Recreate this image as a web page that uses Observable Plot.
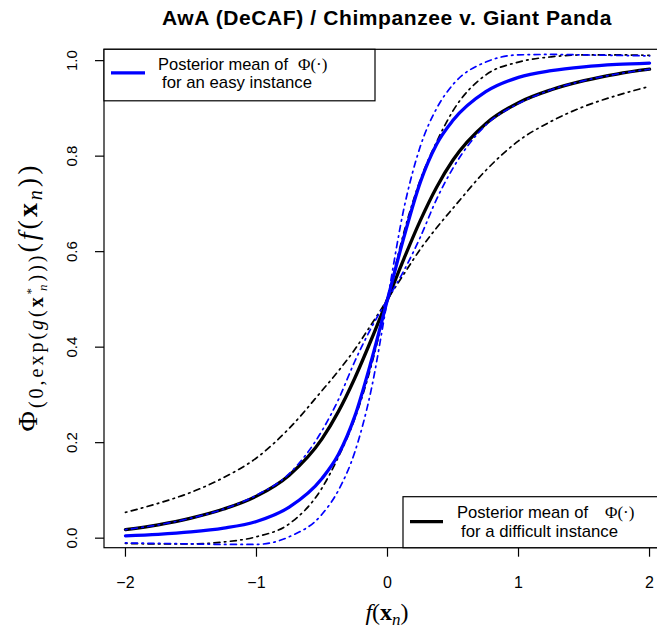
<!DOCTYPE html>
<html><head><meta charset="utf-8">
<script src="https://cdn.jsdelivr.net/npm/d3@7"></script>
<script src="https://cdn.jsdelivr.net/npm/@observablehq/plot@0.6"></script>
<style>
html,body{margin:0;padding:0;background:#fff;overflow:hidden;}
#title{position:relative;width:657px;height:36px;font-family:"Liberation Sans",Arial,sans-serif;}
#title span{position:absolute;left:387px;top:7px;transform:translateX(-50%);white-space:nowrap;font-weight:bold;font-size:21px;line-height:1;letter-spacing:0.6px;color:#000;}
</style></head><body>
<div id="title"><span>AwA (DeCAF) / Chimpanzee v. Giant Panda</span></div>
<div id="chart"></div>
<script>
// f(x_n) grid
const fx = [-2, -1.75, -1.5, -1.25, -1, -0.75, -0.5, -0.375, -0.25, -0.125, 0, 0.125, 0.25, 0.375, 0.5, 0.75, 1, 1.25, 1.5, 1.75, 2];
// difficult instance (black)
const blackMean   = [0.018, 0.028, 0.042, 0.061, 0.088, 0.132, 0.208, 0.265, 0.335, 0.415, 0.500, 0.585, 0.665, 0.735, 0.792, 0.868, 0.912, 0.939, 0.958, 0.972, 0.982];
const blackBandA  = [0.054, 0.073, 0.096, 0.127, 0.168, 0.230, 0.309, 0.350, 0.395, 0.447, 0.500, 0.553, 0.605, 0.650, 0.691, 0.770, 0.832, 0.873, 0.904, 0.927, 0.946];
const blackBandB  = [-0.011, -0.012, -0.012, -0.008, 0.003, 0.030, 0.105, 0.170, 0.250, 0.360, 0.500, 0.640, 0.750, 0.830, 0.895, 0.970, 0.997, 1.008, 1.012, 1.012, 1.011];
// easy instance (blue)
const blueMean    = [0.005, 0.008, 0.013, 0.021, 0.035, 0.065, 0.125, 0.175, 0.255, 0.370, 0.500, 0.630, 0.745, 0.825, 0.875, 0.935, 0.965, 0.979, 0.987, 0.992, 0.995];
const blueBandA   = [0.018, 0.028, 0.042, 0.061, 0.090, 0.135, 0.225, 0.290, 0.370, 0.440, 0.500, 0.560, 0.630, 0.710, 0.775, 0.865, 0.910, 0.939, 0.958, 0.972, 0.982];
const blueBandB   = [-0.010, -0.011, -0.012, -0.013, -0.013, 0.003, 0.050, 0.100, 0.180, 0.310, 0.500, 0.690, 0.820, 0.900, 0.950, 0.997, 1.012, 1.013, 1.012, 1.011, 1.010];
// ticks
const xTicks = [-2, -1, 0, 1, 2];
const xTickLabels = ["\u22122", "\u22121", "0", "1", "2"];
const yTicks = [0, 0.2, 0.4, 0.6, 0.8, 1.0];
const yTickLabels = ["0.0", "0.2", "0.4", "0.6", "0.8", "1.0"];
const legendEasy = ["Posterior mean of", "for an easy instance"];
const legendHard = ["Posterior mean of", "for a difficult instance"];

(function () {
const xDomain = [-2.16, 2.16];
const yDomain = [-0.021, 1.0227];
const rows = s => fx.map((x, i) => ({x, y: s[i]}));
const dash = "1.5,4.5,6,4.5";
const sans = "Liberation Sans, Arial, sans-serif";
const serif = "Liberation Serif, DejaVu Serif, serif";

const solid = (s, c) => Plot.line(rows(s), {x: "x", y: "y", stroke: c, strokeWidth: 3.3, curve: "monotone-x"});
const dd = (s, c) => Plot.line(rows(s), {x: "x", y: "y", stroke: c, strokeWidth: 1.7, strokeDasharray: dash, curve: "monotone-x"});

const plot = Plot.plot({
  width: 657, height: 594,
  marginTop: 13.3, marginBottom: 82.3, marginLeft: 104, marginRight: 0,
  x: {domain: xDomain, range: [104, 670]},
  y: {domain: yDomain},
  style: {background: "white", fontFamily: sans, overflow: "hidden"},
  marks: [
    solid(blackMean, "black"),
    dd(blackBandA, "black"),
    dd(blackBandB, "black"),
    solid(blueMean, "#0000ff"),
    dd(blueBandA, "#0000ff"),
    dd(blueBandB, "#0000ff"),
    Plot.rect([0], {x1: xDomain[0], x2: xDomain[1], y1: yDomain[0], y2: yDomain[1], stroke: "black", fill: "none", strokeWidth: 1.2}),
    Plot.axisX(xTicks, {tickSize: 9, fill: "none", label: null, strokeWidth: 1.2}),
    Plot.axisY(yTicks, {tickSize: 9, fill: "none", label: null, strokeWidth: 1.2}),
    Plot.text(xTicks, {x: d => d, y: yDomain[0], text: (d, i) => xTickLabels[i], dy: 40, lineAnchor: "bottom", fontSize: 16, fill: "black"}),
    Plot.text(yTicks, {x: xDomain[0], y: d => d, text: (d, i) => yTickLabels[i], dx: -32, rotate: -90, lineAnchor: "middle", fontSize: 15, fill: "black"})
  ]
});
document.getElementById("chart").appendChild(plot);

const svg = d3.select(plot);
const sx = plot.scale("x"), sy = plot.scale("y");
const pLeft = sx.apply(xDomain[0]), pTop = sy.apply(yDomain[1]), pBottom = sy.apply(yDomain[0]);

const txt = (g, x, y, s, fam, size, len) => {
  const t = g.append("text").attr("x", x).attr("y", y).attr("text-anchor", "start")
    .attr("font-family", fam).attr("font-size", size).attr("fill", "black").text(s);
  if (len) t.attr("textLength", len).attr("lengthAdjust", "spacingAndGlyphs");
  return t;
};

// Legend (easy), top-left
const g1 = svg.append("g");
g1.append("rect").attr("x", pLeft).attr("y", pTop).attr("width", 271).attr("height", 51.5).attr("fill", "white").attr("stroke", "black").attr("stroke-width", 1.2);
g1.append("line").attr("x1", pLeft + 7).attr("x2", pLeft + 41).attr("y1", pTop + 23.5).attr("y2", pTop + 23.5).attr("stroke", "#0000ff").attr("stroke-width", 3.3);
txt(g1, pLeft + 54, pTop + 20.5, legendEasy[0], sans, 17, 130);
txt(g1, pLeft + 194, pTop + 20.5, "\u03A6(\u00B7)", serif, 17);
txt(g1, pLeft + 58, pTop + 38.5, legendEasy[1], sans, 17, 150);

// Legend (difficult), bottom-right
const g2 = svg.append("g");
const bx = 403, by = pBottom - 51;
g2.append("rect").attr("x", bx).attr("y", by).attr("width", 300).attr("height", 51).attr("fill", "white").attr("stroke", "black").attr("stroke-width", 1.2);
g2.append("line").attr("x1", bx + 7).attr("x2", bx + 40).attr("y1", by + 25).attr("y2", by + 25).attr("stroke", "black").attr("stroke-width", 3.3);
txt(g2, bx + 54, by + 21.5, legendHard[0], sans, 17, 131);
txt(g2, bx + 202, by + 21.5, "\u03A6(\u00B7)", serif, 17);
txt(g2, bx + 58, by + 40.5, legendHard[1], sans, 17, 157);

// x-axis title f(x_n)
const xt = svg.append("text").attr("x", sx.apply(0)).attr("y", 584).attr("text-anchor", "middle").attr("font-family", serif).attr("font-size", 24).attr("fill", "black");
xt.append("tspan").attr("font-style", "italic").text("f");
xt.append("tspan").text("(");
xt.append("tspan").attr("font-weight", "bold").text("x");
xt.append("tspan").attr("font-style", "italic").attr("font-size", 17).attr("dy", 5).text("n");
xt.append("tspan").attr("dy", -5).text(")");

// y-axis title
const yt = svg.append("text").attr("transform", `translate(37,${(pTop + pBottom) / 2}) rotate(-90)`).attr("text-anchor", "middle").attr("font-family", serif).attr("font-size", 28).attr("fill", "black")
  .attr("textLength", 266).attr("lengthAdjust", "spacing");
yt.append("tspan").text("\u03A6");
yt.append("tspan").attr("font-size", 20).attr("dy", 6).text("(0,exp(");
yt.append("tspan").attr("font-size", 20).attr("font-style", "italic").text("g");
yt.append("tspan").attr("font-size", 20).text("(");
yt.append("tspan").attr("font-size", 20).attr("font-weight", "bold").text("x");
yt.append("tspan").attr("font-size", 13).attr("dy", -8).text("*");
yt.append("tspan").attr("font-size", 13).attr("font-style", "italic").attr("dx", -6).attr("dy", 12).text("n");
yt.append("tspan").attr("font-size", 20).attr("dy", -4).text(")))");
yt.append("tspan").attr("dy", -6).text("(");
yt.append("tspan").attr("font-style", "italic").text("f");
yt.append("tspan").text("(");
yt.append("tspan").attr("font-weight", "bold").text("x");
yt.append("tspan").attr("font-size", 20).attr("font-style", "italic").attr("dy", 5).text("n");
yt.append("tspan").attr("dy", -5).text("))");
})();
</script>
</body></html>
